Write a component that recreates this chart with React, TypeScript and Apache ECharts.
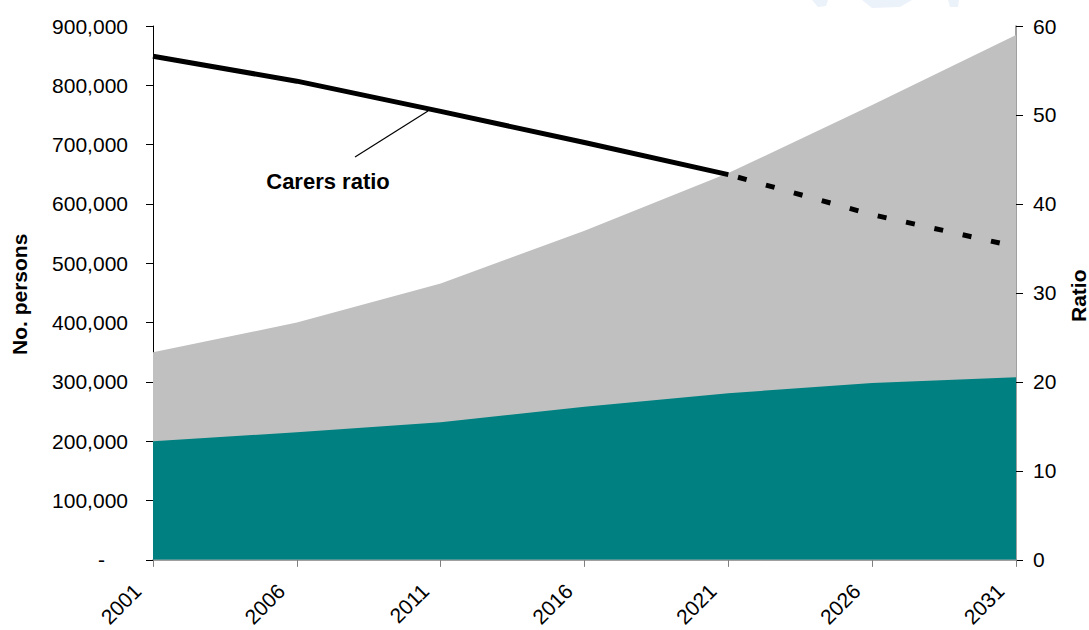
import React, { useEffect, useRef } from "react";
import * as echarts from "echarts";

const years = ["2001", "2006", "2011", "2016", "2021", "2026", "2031"];
const needingCare = [350000, 400000, 466000, 555000, 652000, 767000, 885000];
const withCarer = [200000, 215000, 232000, 258000, 281000, 298000, 308000];
const ratioSolid = [56.6, 53.8, 50.4, 46.9, 43.3, null, null];
const ratioDashed = [null, null, null, null, 43.3, 38.8, 35.2];

const FONT = "Liberation Sans, Arial, sans-serif";

export default function App() {
  const ref = useRef<HTMLDivElement>(null);
  useEffect(() => {
    const chart = echarts.init(ref.current!, null, { renderer: "svg" });
    chart.setOption({
      animation: false,
      textStyle: { fontFamily: FONT },
      grid: { left: 153, right: 73, top: 26, bottom: 70 },
      xAxis: {
        type: "category",
        data: years,
        boundaryGap: false,
        axisLine: { lineStyle: { color: "#808080", width: 1.5 } },
        axisTick: { show: true, length: 7, lineStyle: { color: "#808080" } },
        axisLabel: {
          rotate: 45,
          color: "#000",
          fontSize: 21,
          fontFamily: FONT,
          margin: 12,
          padding: [0, 22, 0, 0],
        },
      },
      yAxis: [
        {
          type: "value",
          min: 0,
          max: 900000,
          interval: 100000,
          splitLine: { show: false },
          axisLine: { show: true, lineStyle: { color: "#000", width: 1 } },
          axisTick: { show: true, length: 7, lineStyle: { color: "#000" } },
          axisLabel: {
            color: "#000",
            fontSize: 21,
            fontFamily: FONT,
            margin: 25,
            formatter: (v: number) => (v === 0 ? "{z|-}" : v.toLocaleString("en-US")),
            rich: { z: { fontSize: 21, fontFamily: FONT, color: "#000", padding: [0, 23, 0, 0] } },
          },
        },
        {
          type: "value",
          min: 0,
          max: 60,
          interval: 10,
          position: "right",
          splitLine: { show: false },
          axisLine: { show: true, lineStyle: { color: "#808080", width: 1.5 } },
          axisTick: { show: true, length: 7, lineStyle: { color: "#000" } },
          axisLabel: { color: "#000", fontSize: 21, fontFamily: FONT, margin: 17 },
        },
      ],
      series: [
        {
          name: "Persons 65+ in the community needing care",
          type: "line",
          data: needingCare,
          symbol: "none",
          lineStyle: { width: 0 },
          areaStyle: { color: "#C0C0C0", opacity: 1 },
          z: 1,
        },
        {
          name: "With a primary carer",
          type: "line",
          data: withCarer,
          symbol: "none",
          lineStyle: { width: 0 },
          areaStyle: { color: "#008080", opacity: 1 },
          z: 2,
        },
        {
          name: "Carers ratio",
          type: "line",
          yAxisIndex: 1,
          data: ratioSolid,
          symbol: "none",
          lineStyle: { color: "#000", width: 5 },
          z: 3,
        },
        {
          name: "Carers ratio (projected)",
          type: "line",
          yAxisIndex: 1,
          data: ratioDashed,
          symbol: "none",
          lineStyle: { color: "#000", width: 5, type: [9, 20], dashOffset: -10 },
          z: 3,
        },
      ],
      graphic: [
        {
          type: "polygon",
          shape: { points: [[812, 0], [828, 0], [826, 6], [818, 7]] },
          style: { fill: "#ecf2fa" },
          silent: true,
        },
        {
          type: "polygon",
          shape: { points: [[862, 0], [912, 0], [900, 7], [872, 8]] },
          style: { fill: "#ecf2fa" },
          silent: true,
        },
        {
          type: "polygon",
          shape: { points: [[948, 0], [959, 0], [958, 7], [950, 7]] },
          style: { fill: "#ecf2fa" },
          silent: true,
        },
        {
          type: "text",
          x: 9,
          y: 355,
          rotation: Math.PI / 2,
          style: { text: "No. persons", fill: "#000", font: `bold 21px ${FONT}` },
        },
        {
          type: "text",
          x: 1068,
          y: 322,
          rotation: Math.PI / 2,
          style: { text: "Ratio", fill: "#000", font: `bold 21px ${FONT}` },
        },
        {
          type: "text",
          x: 328,
          y: 181,
          style: { text: "Carers ratio", fill: "#000", font: `bold 22px ${FONT}`, textAlign: "center", textVerticalAlign: "middle" },
        },
        {
          type: "line",
          shape: { x1: 355, y1: 157, x2: 428, y2: 111 },
          style: { stroke: "#000", lineWidth: 1.2 },
        },
        {
          type: "text",
          x: 617,
          y: 309,
          style: { text: "Persons 65+ in the community", fill: "#000", font: `bold 22px ${FONT}`, textAlign: "center", textVerticalAlign: "middle" },
        },
        {
          type: "text",
          x: 617,
          y: 339,
          style: { text: "needing care", fill: "#000", font: `bold 22px ${FONT}`, textAlign: "center", textVerticalAlign: "middle" },
        },
        {
          type: "text",
          x: 785,
          y: 470,
          style: { text: "With a prmary carer", fill: "#000", font: `bold 22px ${FONT}`, textAlign: "center", textVerticalAlign: "middle" },
        },
      ],
    });
    return () => chart.dispose();
  }, []);
  return (
    <div
      ref={ref}
      style={{ width: 1089, height: 630, position: "absolute", left: 0, top: 0, background: "#fff" }}
    />
  );
}
